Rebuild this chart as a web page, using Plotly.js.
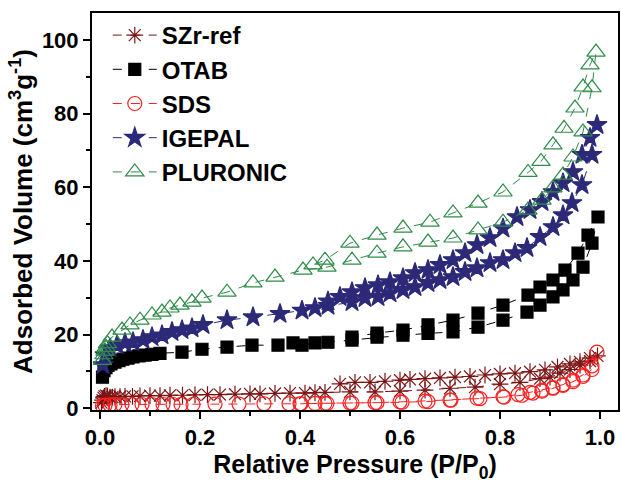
<!DOCTYPE html>
<html>
<head>
<meta charset="utf-8">
<script src="https://cdn.plot.ly/plotly-3.0.1.min.js"></script>
<style>html,body{margin:0;padding:0;background:#fff;}#chart{width:621px;height:486px;}</style>
</head>
<body>
<div id="chart"></div>
<script>
// SZr-ref
const szrAdsX = [0.003,0.005,0.007,0.009,0.012,0.015,0.02,0.025,0.03,0.04,0.05,0.065,0.08,0.1,0.12,0.14,0.165,0.19,0.215,0.24,0.27,0.3,0.32,0.35,0.38,0.41,0.43,0.45,0.5,0.55,0.6,0.65,0.7,0.75,0.8,0.84,0.88,0.9,0.92,0.94,0.96,0.98,0.995];
const szrAdsY = [1.5,2.2,2.8,3.2,3.4,3.3,3.0,3.0,3.1,3.1,3.2,3.2,3.3,3.4,3.4,3.5,3.5,3.6,3.7,3.7,3.8,3.9,3.9,4.0,4.1,4.1,4.2,4.3,4.4,4.4,4.6,4.9,5.4,5.7,6.5,7.0,8.0,8.4,9.5,10.5,11.7,12.8,14.2];
const szrDesX = [0.98,0.96,0.94,0.915,0.89,0.86,0.83,0.8,0.77,0.74,0.71,0.68,0.65,0.62,0.6,0.57,0.54,0.51,0.48];
const szrDesY = [13.6,12.6,12.0,11.2,10.4,9.9,9.5,9.3,9.0,8.6,8.4,8.2,8.0,7.8,7.6,7.3,7.0,7.0,6.6];
// OTAB
const otabAdsX = [0.005,0.008,0.012,0.016,0.022,0.03,0.038,0.046,0.056,0.066,0.078,0.09,0.104,0.12,0.164,0.204,0.254,0.304,0.356,0.386,0.404,0.43,0.456,0.504,0.554,0.606,0.656,0.706,0.756,0.806,0.854,0.88,0.906,0.926,0.946,0.966,0.984,0.996];
const otabAdsY = [8.4,10.2,11.0,11.6,12.0,12.5,12.9,13.3,13.6,13.9,14.2,14.4,14.6,14.9,15.2,16.0,16.6,17.1,17.1,17.7,17.1,17.7,17.9,18.5,19.3,19.8,20.3,20.7,22.0,23.9,26.1,28.0,30.2,32.1,34.8,38.3,44.8,51.9];
const otabDesX = [0.976,0.956,0.93,0.906,0.88,0.856,0.806,0.756,0.706,0.656,0.606,0.554,0.504];
const otabDesY = [47.0,42.1,37.5,34.8,32.9,30.7,28.0,25.8,23.9,22.6,21.2,20.4,19.3];
// SDS
const sdsAdsX = [0.005,0.01,0.02,0.03,0.044,0.064,0.084,0.104,0.126,0.146,0.162,0.186,0.23,0.278,0.328,0.378,0.402,0.43,0.454,0.504,0.554,0.604,0.656,0.702,0.754,0.808,0.844,0.866,0.884,0.906,0.926,0.946,0.966,0.984,0.994];
const sdsAdsY = [0.6,0.8,0.9,1.0,1.0,1.0,1.0,1.0,1.0,1.0,1.0,1.0,1.1,1.1,1.2,1.2,1.2,1.3,1.3,1.4,1.5,1.6,1.8,2.2,2.7,3.0,3.5,4.1,4.6,5.4,6.2,7.2,8.6,10.5,15.2];
const sdsDesX = [0.984,0.966,0.946,0.926,0.906,0.884,0.86,0.836,0.806,0.76,0.7,0.65,0.6,0.55,0.5,0.45,0.4];
const sdsDesY = [11.5,9.0,7.6,6.4,5.6,4.9,4.3,3.7,3.1,2.6,2.2,1.9,1.7,1.5,1.4,1.3,1.2];
// IGEPAL
const igeAdsX = [0.006,0.01,0.02,0.034,0.05,0.066,0.086,0.104,0.124,0.144,0.164,0.184,0.206,0.254,0.306,0.36,0.404,0.43,0.456,0.504,0.53,0.556,0.58,0.606,0.63,0.656,0.68,0.706,0.73,0.754,0.78,0.806,0.83,0.854,0.88,0.906,0.926,0.944,0.964,0.984,0.994];
const igeAdsY = [11.7,14.4,16.3,17.1,17.7,17.9,18.5,19.3,19.8,20.7,21.2,21.7,22.6,23.9,24.7,25.6,26.5,27.2,27.8,28.8,29.9,30.2,31.2,32.1,32.9,34.0,34.8,35.6,37.0,38.0,39.4,40.2,42.1,43.5,46.5,49.2,52.4,55.7,60.6,68.8,76.9];
const igeDesX = [0.98,0.964,0.946,0.926,0.906,0.884,0.86,0.834,0.806,0.78,0.754,0.73,0.706,0.68,0.656,0.63,0.606,0.58,0.556,0.53,0.504,0.48,0.456];
const igeDesY = [73.4,68.8,64.1,61.1,58.7,56.0,53.8,51.9,48.8,46.2,44.3,42.1,40.2,38.9,37.5,36.7,35.3,34.2,33.4,32.6,31.5,30.2,29.0];
// PLURONIC
const pluAdsX = [0.005,0.008,0.01,0.012,0.015,0.024,0.044,0.06,0.08,0.104,0.124,0.14,0.16,0.184,0.204,0.254,0.306,0.35,0.406,0.454,0.504,0.554,0.606,0.656,0.706,0.756,0.806,0.856,0.884,0.906,0.926,0.946,0.966,0.984,0.992];
const pluAdsY = [13.0,14.5,15.5,16.5,17.5,19.3,21.2,22.6,23.9,25.3,26.1,27.2,28.0,28.8,29.9,31.5,34.0,35.6,37.5,38.3,40.2,42.1,43.8,45.1,46.2,48.4,50.5,53.8,56.5,59.8,63.3,68.2,75.0,87.0,96.7];
const pluDesX = [0.98,0.966,0.95,0.928,0.906,0.882,0.856,0.806,0.756,0.706,0.66,0.606,0.554,0.5,0.45,0.426];
const pluDesY = [93.2,87.2,81.5,76.0,71.5,67.0,64.0,58.7,55.7,53.0,50.5,48.9,47.0,44.8,40.2,38.9];

const names = ['SZr-ref','OTAB','SDS','IGEPAL','PLURONIC'];
const xs = [szrAdsX.concat(szrDesX), otabAdsX.concat(otabDesX), sdsAdsX.concat(sdsDesX), igeAdsX.concat(igeDesX), pluAdsX.concat(pluDesX)];
const ys = [szrAdsY.concat(szrDesY), otabAdsY.concat(otabDesY), sdsAdsY.concat(sdsDesY), igeAdsY.concat(igeDesY), pluAdsY.concat(pluDesY)];
const colors = ['#7b1515','#000000','#ff2020','#2c2a78','#2e8b4a'];
const symbols = ['asterisk-open','square','circle-open','star','triangle-up-open'];
const sizes = [14,12,14,15,16];

const traces = names.map((n,i)=>({
  type:'scatter', mode:'lines+markers', name:n, x:xs[i], y:ys[i],
  line:{color:colors[i], width:1, dash:'dash'},
  marker:{symbol:symbols[i], size:sizes[i], color:colors[i], line:{color:colors[i], width:1.2}}
}));

const fam = 'Liberation Sans, Arial, sans-serif';
const tickFont = {family:fam, size:22, color:'#000', weight:700};
const xTitleFont = {family:fam, size:25, color:'#000', weight:700};
const yTitleFont = {family:fam, size:26, color:'#000', weight:700};
const legFont = {family:fam, size:24, color:'#000', weight:700};
const layout = {
  width:621, height:486,
  margin:{l:92, r:3, t:13, b:76},
  paper_bgcolor:'#fff', plot_bgcolor:'#fff',
  showlegend:true,
  legend:{x:0.03, y:1.0, xanchor:'left', yanchor:'top', font:legFont, bgcolor:'rgba(0,0,0,0)', itemwidth:44, tracegroupgap:0},
  xaxis:{range:[-0.016,1.036], tickvals:[0,0.2,0.4,0.6,0.8,1.0], ticktext:['0.0','0.2','0.4','0.6','0.8','1.0'],
    ticks:'outside', ticklen:7, tickwidth:2, tickcolor:'#000', showline:true, linewidth:2, linecolor:'#000', mirror:true,
    showgrid:false, zeroline:false, tickfont:tickFont,
    minor:{tickvals:[0.1,0.3,0.5,0.7,0.9], ticks:'outside', ticklen:4, tickwidth:2, tickcolor:'#000', showgrid:false},
    title:{text:'Relative Pressure (P/P<sub>0</sub>)', font:xTitleFont, standoff:6}},
  yaxis:{range:[-0.5,107.3], tickvals:[0,20,40,60,80,100],
    ticks:'outside', ticklen:7, tickwidth:2, tickcolor:'#000', showline:true, linewidth:2, linecolor:'#000', mirror:true,
    showgrid:false, zeroline:false, tickfont:tickFont,
    minor:{tickvals:[10,30,50,70,90], ticks:'outside', ticklen:4, tickwidth:2, tickcolor:'#000', showgrid:false},
    title:{text:'Adsorbed Volume (cm<sup>3</sup>g<sup>-1</sup>)', font:yTitleFont, standoff:2}}
};
Plotly.newPlot('chart', traces, layout, {displayModeBar:false, staticPlot:true});
</script>
</body>
</html>
